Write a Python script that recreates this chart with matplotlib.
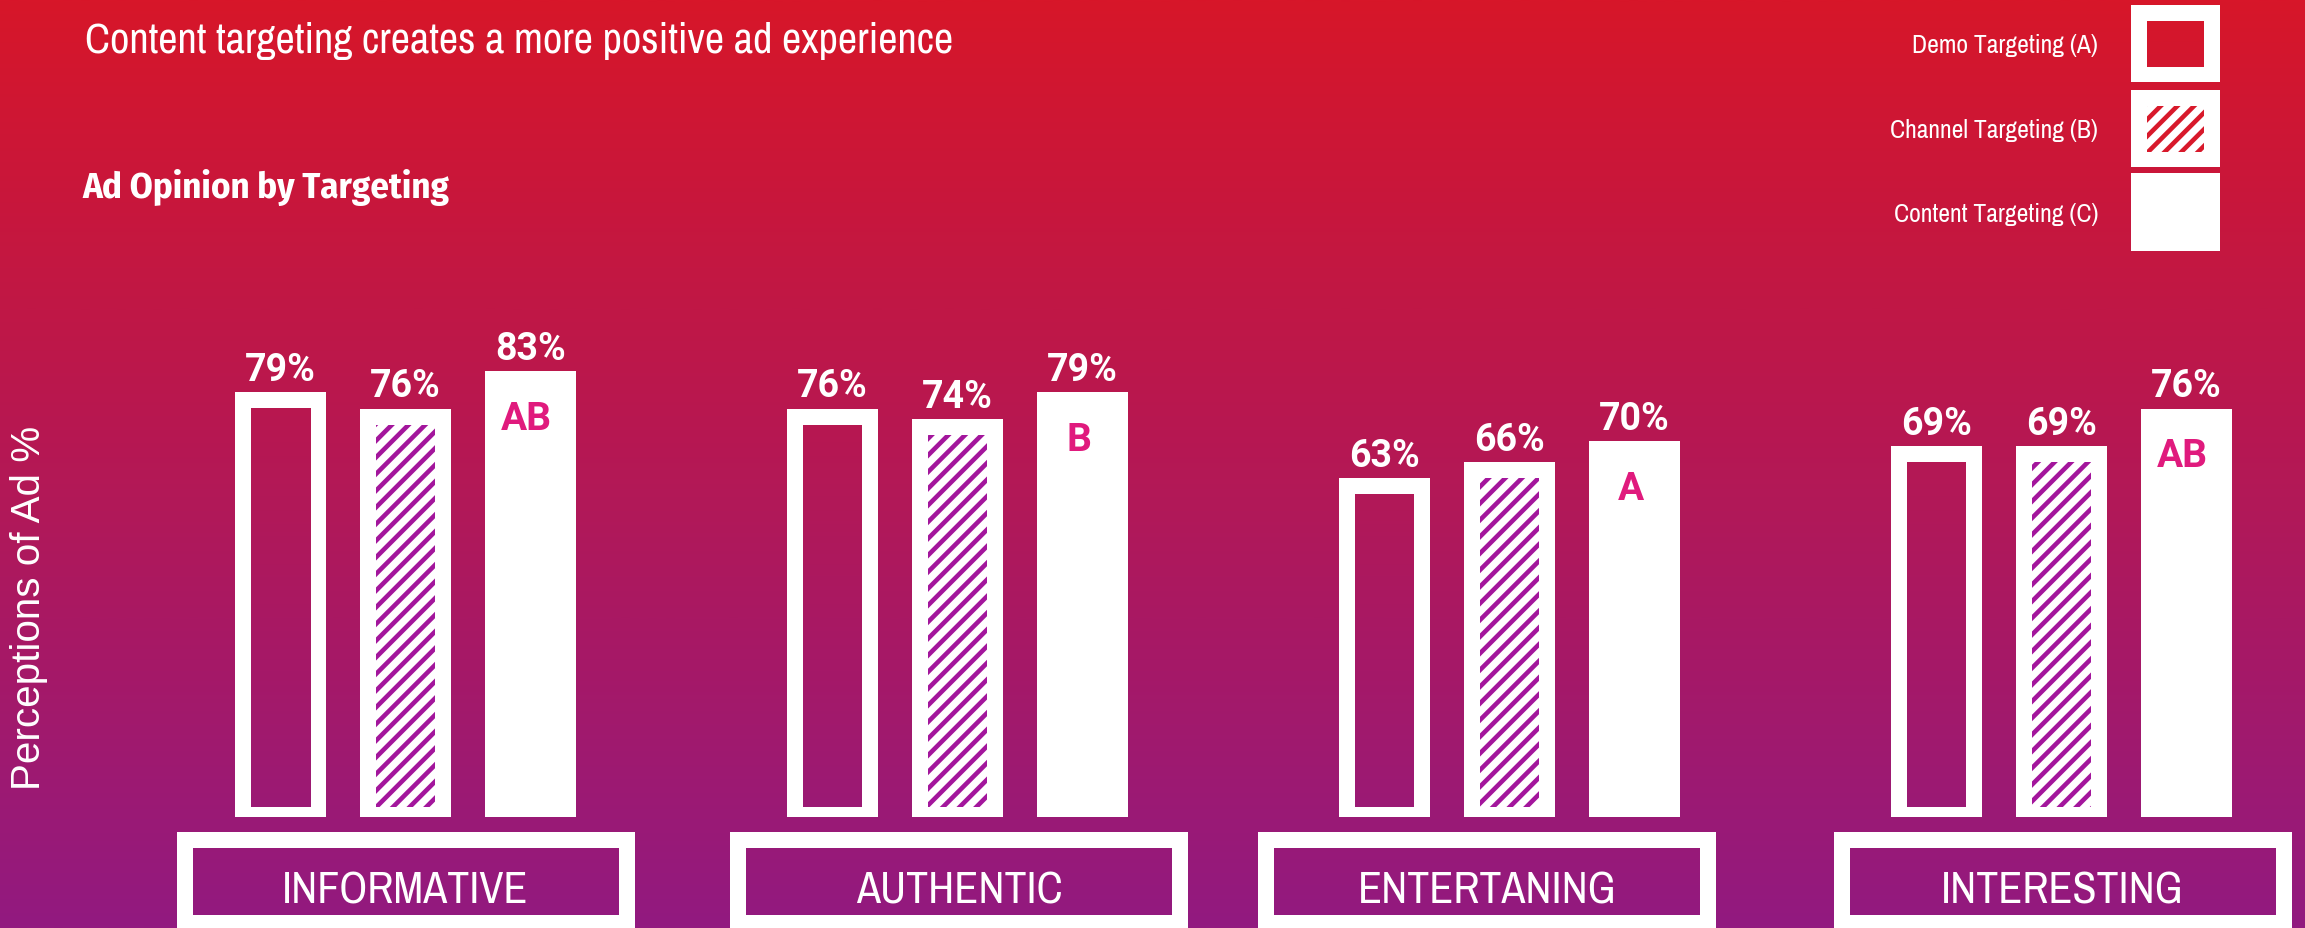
import numpy as np
import matplotlib
matplotlib.use("Agg")
import matplotlib.pyplot as plt
from matplotlib.patches import Rectangle
from matplotlib.colors import LinearSegmentedColormap
from matplotlib.font_manager import FontProperties
from matplotlib.textpath import TextPath
import matplotlib.font_manager as fm

# ---------------- data ----------------
title = "Content targeting creates a more positive ad experience"
subtitle = "Ad Opinion by Targeting"
ylabel = "Perceptions of Ad %"
categories = ["INFORMATIVE", "AUTHENTIC", "ENTERTANING", "INTERESTING"]
series_names = ["Demo Targeting (A)", "Channel Targeting (B)", "Content Targeting (C)"]
demo_targeting = [79, 76, 63, 69]
channel_targeting = [76, 74, 66, 69]
content_targeting = [83, 79, 70, 76]
significance = ["AB", "B", "A", "AB"]

# ---------------- fonts ----------------
names = {f.name for f in fm.fontManager.ttflist}


def _w(v):
    if isinstance(v, (int, float)):
        return v
    return fm.weight_dict.get(str(v).lower(), 400)


def has_bold(n):
    return any(f.name == n and _w(f.weight) >= 600 for f in fm.fontManager.ttflist)


COND = "Archivo Narrow" if "Archivo Narrow" in names else "Roboto"
COND_BOLD = "Roboto"
for cand in ["Archivo Narrow", "Fira Sans Condensed", "Barlow Semi Condensed",
             "Encode Sans Condensed", "IBM Plex Sans Condensed", "Asap Condensed"]:
    if cand in names and has_bold(cand):
        COND_BOLD = cand
        break
BOLDF = "Roboto"
REG = "Liberation Sans"


def fit_size(s, family, weight, target_px):
    """font size (pt at 100 dpi) whose ink width equals target_px"""
    base = 50.0
    tp = TextPath((0, 0), s, size=base, prop=FontProperties(family=family, weight=weight))
    w = tp.get_extents().width
    return base * target_px / w * 0.72


# ---------------- layout (pixels) ----------------
W, H = 2305, 929
X0, DX = 405.5, 552.0
Y0, PPU = 818.0, 5.375


def px2x(p):
    return (p - X0) / DX


def px2y(p):
    return (Y0 - p) / PPU


def dx(n):
    return n / DX


def dy(n):
    return n / PPU


TOP_C = "#D71629"
BOT_C = "#921A80"
HATCH_PURPLE = "#A3169C"
HATCH_RED = "#D8192B"
PINK = "#E01A7D"
plt.rcParams["hatch.linewidth"] = 3.3

fig = plt.figure(figsize=(W / 100, H / 100), dpi=100)
ax = fig.add_axes([0, 0, 1, 1])
xlim = (px2x(0), px2x(W))
ylim = (px2y(H), px2y(0))
ax.set_xlim(*xlim)
ax.set_ylim(*ylim)
ax.axis("off")

cmap = LinearSegmentedColormap.from_list("bg", [TOP_C, BOT_C])
grad = np.linspace(0, 1, 512)[:, None]
ext = (xlim[0], xlim[1], ylim[0], ylim[1])
ax.imshow(grad, extent=ext, aspect="auto", cmap=cmap, origin="upper", zorder=0,
          interpolation="bilinear")


def gradient_window(x0, y0, w, h, z=3):
    clip = Rectangle((x0, y0), w, h, transform=ax.transData)
    im = ax.imshow(grad, extent=ext, aspect="auto", cmap=cmap, origin="upper",
                   zorder=z, interpolation="bilinear")
    im.set_clip_path(clip)
    ax.set_xlim(*xlim)
    ax.set_ylim(*ylim)


x = np.arange(len(categories))
bw = dx(91)
off = dx(125)
side = dx(16)
topb = dy(16)
botb = dy(10)

series = [demo_targeting, channel_targeting, content_targeting]
for si, vals in enumerate(series):
    xs = x + (si - 1) * off
    ax.bar(xs, vals, width=bw, color="white", linewidth=0, zorder=2)
    for xi, v in zip(xs, vals):
        ix0 = xi - bw / 2 + side
        iw = bw - 2 * side
        ih = v - topb - botb
        if si == 0:
            gradient_window(ix0, botb, iw, ih)
        elif si == 1:
            ax.add_patch(Rectangle((ix0, botb), iw, ih, facecolor="white",
                                   edgecolor=HATCH_PURPLE, linewidth=0,
                                   hatch="//", zorder=3))
        ax.text(xi, v + dy(12), f"{v}%", ha="center", va="baseline",
                fontsize=27, fontweight="bold", family=BOLDF, color="white", zorder=5)

for xi, v, s in zip(x + off, content_targeting, significance):
    ax.text(xi - dx(4), v - dy(58), s, ha="center", va="baseline", fontsize=28,
            fontweight="bold", family=BOLDF, color=PINK, zorder=5)

# category boxes
cat_fs = fit_size(categories[0], COND, "normal", 241)
box_shift = [0, 1.5, -22.5, 1]
for xi, c, sh in zip(x, categories, box_shift):
    cx = xi + dx(sh)
    bwid = dx(458)
    ax.add_patch(Rectangle((cx - bwid / 2, px2y(945)), bwid, px2y(833) - px2y(945),
                           facecolor="white", linewidth=0, zorder=2))
    gradient_window(cx - bwid / 2 + side, px2y(916), bwid - 2 * side,
                    px2y(849) - px2y(916))
    ax.text(cx, px2y(904), c, ha="center", va="baseline", fontsize=cat_fs,
            family=COND, color="white", zorder=5)

# legend
leg_fs = fit_size(series_names[0], COND, "normal", 183)
leg_l, leg_r = 2131, 2220
leg_tops = [6, 91, 174]
leg_bots = [83, 168, 252]
for i, (t, b, name) in enumerate(zip(leg_tops, leg_bots, series_names)):
    ax.add_patch(Rectangle((px2x(leg_l), px2y(b)), px2x(leg_r) - px2x(leg_l),
                           px2y(t) - px2y(b), facecolor="white", linewidth=0, zorder=2))
    il, ir, it, ib = leg_l + 16, leg_r - 16, t + 16, b - 15
    if i == 0:
        gradient_window(px2x(il), px2y(ib), px2x(ir) - px2x(il), px2y(it) - px2y(ib))
    elif i == 1:
        ax.add_patch(Rectangle((px2x(il), px2y(ib)), px2x(ir) - px2x(il),
                               px2y(it) - px2y(ib), facecolor="white",
                               edgecolor=HATCH_RED, linewidth=0, hatch="//", zorder=3))
    ax.text(px2x(2098), px2y((t + b) / 2 + 9), name, ha="right", va="baseline",
            fontsize=leg_fs, family=COND, color="white", zorder=5)

ax.text(px2x(85), px2y(53), title, ha="left", va="baseline",
        fontsize=fit_size(title, COND, "normal", 866),
        family=COND, color="white", zorder=5)
ax.text(px2x(82), px2y(198), subtitle, ha="left", va="baseline",
        fontsize=fit_size(subtitle, COND_BOLD, "bold", 368),
        family=COND_BOLD, fontweight="bold", color="white", zorder=5)
ax.text(px2x(29), px2y(608), ylabel, ha="center", va="center", rotation=90,
        fontsize=fit_size(ylabel, REG, "normal", 359), family=REG, color="white", zorder=5)

fig.savefig("out.png", dpi=100)
